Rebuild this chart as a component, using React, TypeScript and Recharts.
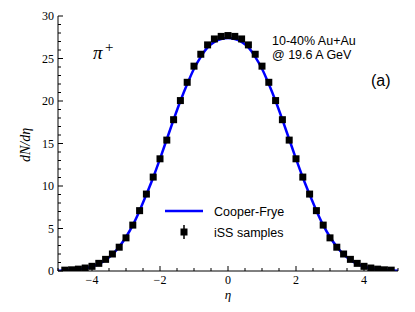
import { ComposedChart, Line, Scatter, XAxis, YAxis, Legend } from 'recharts';

// eta grid for the Cooper-Frye curve
const etaGrid = [
  -5, -4.8, -4.6, -4.4, -4.2, -4, -3.8, -3.6, -3.4, -3.2, -3, -2.8, -2.6, -2.4, -2.2, -2,
  -1.8, -1.6, -1.4, -1.2, -1, -0.8, -0.6, -0.4, -0.2, 0, 0.2, 0.4, 0.6, 0.8, 1, 1.2, 1.4,
  1.6, 1.8, 2, 2.2, 2.4, 2.6, 2.8, 3, 3.2, 3.4, 3.6, 3.8, 4, 4.2, 4.4, 4.6, 4.8, 5,
];
const cooperFrye = [
  0.04, 0.07, 0.12, 0.2, 0.32, 0.52, 0.85, 1.3, 1.95, 2.85, 4.0, 5.4, 7.1, 9.0, 11.0, 13.2,
  15.5, 17.8, 20.0, 22.0, 23.8, 25.2, 26.3, 26.95, 27.3, 27.4, 27.3, 26.95, 26.3, 25.2, 23.8,
  22.0, 20.0, 17.8, 15.5, 13.2, 11.0, 9.0, 7.1, 5.4, 4.0, 2.85, 1.95, 1.3, 0.85, 0.52, 0.32,
  0.2, 0.12, 0.07, 0.04,
];

// iSS sampled bins
const etaBins = [
  -4.8, -4.6, -4.4, -4.2, -4, -3.8, -3.6, -3.4, -3.2, -3, -2.8, -2.6, -2.4, -2.2, -2, -1.8,
  -1.6, -1.4, -1.2, -1, -0.8, -0.6, -0.4, -0.2, 0, 0.2, 0.4, 0.6, 0.8, 1, 1.2, 1.4, 1.6, 1.8,
  2, 2.2, 2.4, 2.6, 2.8, 3, 3.2, 3.4, 3.6, 3.8, 4, 4.2, 4.4, 4.6, 4.8,
];
const issSamples = [
  0.1, 0.14, 0.22, 0.35, 0.55, 0.9, 1.37, 2.0, 2.8, 3.9, 5.4, 7.1, 9.05, 11.05, 13.2, 15.4,
  17.8, 20.05, 22.2, 24.1, 25.5, 26.6, 27.3, 27.6, 27.7, 27.6, 27.3, 26.6, 25.5, 24.1, 22.2,
  20.05, 17.8, 15.4, 13.2, 11.05, 9.05, 7.1, 5.4, 3.9, 2.8, 2.0, 1.37, 0.9, 0.55, 0.35, 0.22,
  0.14, 0.1,
];

const xTicks = [-5, -4.5, -4, -3.5, -3, -2.5, -2, -1.5, -1, -0.5, 0, 0.5, 1, 1.5, 2, 2.5, 3, 3.5, 4, 4.5, 5];
const xMajor = [-4, -2, 0, 2, 4];
const yTicks = Array.from({ length: 31 }, (_, i) => i);
const yMajor = [0, 5, 10, 15, 20, 25, 30];

const lineData = etaGrid.map((eta, i) => ({ eta, cf: cooperFrye[i] }));
const issData = etaBins.map((eta, i) => ({ eta, iss: issSamples[i] }));

const serif = "'Liberation Serif', 'DejaVu Serif', serif";
const sans = "'Liberation Sans', Arial, sans-serif";

const fmt = (v: number) => (v < 0 ? `\u2212${Math.abs(v)}` : `${v}`);

function BottomTick({ x, y, payload }: any) {
  const major = xMajor.includes(payload.value);
  return (
    <g>
      <line x1={x} x2={x} y1={y} y2={y - (major ? 5 : 3)} stroke="#000" strokeWidth={1} />
      {major && (
        <text x={x} y={y + 13} textAnchor="middle" fontFamily={serif} fontSize={12} fill="#000">
          {fmt(payload.value)}
        </text>
      )}
    </g>
  );
}

function TopTick({ x, y, payload }: any) {
  const major = xMajor.includes(payload.value);
  return <line x1={x} x2={x} y1={y} y2={y + (major ? 5 : 3)} stroke="#000" strokeWidth={1} />;
}

function LeftTick({ x, y, payload }: any) {
  const major = yMajor.includes(payload.value);
  return (
    <g>
      <line x1={x} x2={x + (major ? 5 : 3)} y1={y} y2={y} stroke="#000" strokeWidth={1} />
      {major && (
        <text x={x - 4} y={y + 4} textAnchor="end" fontFamily={serif} fontSize={12} fill="#000">
          {payload.value}
        </text>
      )}
    </g>
  );
}

function RightTick({ x, y, payload }: any) {
  const major = yMajor.includes(payload.value);
  return <line x1={x} x2={x - (major ? 5 : 3)} y1={y} y2={y} stroke="#000" strokeWidth={1} />;
}

function SquareDot({ cx, cy }: any) {
  if (cx == null || cy == null) return null;
  return <rect x={cx - 3.5} y={cy - 3.5} width={7} height={7} fill="#000" />;
}

function LegendBox() {
  return (
    <svg width={140} height={46} style={{ display: 'block' }}>
      <line x1={5} x2={43} y1={12} y2={12} stroke="#0000ff" strokeWidth={2.5} />
      <text x={54} y={17} fontFamily={sans} fontSize={12.5} fill="#000">Cooper-Frye</text>
      <line x1={24} x2={24} y1={26} y2={40} stroke="#000" strokeWidth={1.5} />
      <rect x={20.5} y={29.5} width={7} height={7} fill="#000" />
      <text x={54} y={38} fontFamily={sans} fontSize={12.5} fill="#000">iSS samples</text>
    </svg>
  );
}

export default function App() {
  return (
    <div style={{ position: 'absolute', left: 0, top: 0, width: 415, height: 312, background: '#fff' }}>
      <ComposedChart
        width={415}
        height={312}
        data={lineData}
        margin={{ top: 16, right: 17, bottom: 0, left: 0 }}
      >
        <XAxis
          dataKey="eta"
          type="number"
          domain={[-5, 5]}
          allowDataOverflow
          ticks={xTicks}
          interval={0}
          height={41}
          tickSize={0}
          tickMargin={0}
          tick={<BottomTick />}
          axisLine={{ stroke: '#000' }}
          tickLine={false}
        />
        <XAxis
          xAxisId="top"
          orientation="top"
          dataKey="eta"
          type="number"
          domain={[-5, 5]}
          allowDataOverflow
          ticks={xTicks}
          interval={0}
          height={0}
          tickSize={0}
          tickMargin={0}
          tick={<TopTick />}
          axisLine={{ stroke: '#000' }}
          tickLine={false}
        />
        <YAxis
          type="number"
          domain={[0, 30]}
          allowDataOverflow
          ticks={yTicks}
          interval={0}
          width={58}
          tickSize={0}
          tickMargin={0}
          tick={<LeftTick />}
          axisLine={{ stroke: '#000' }}
          tickLine={false}
        />
        <YAxis
          yAxisId="right"
          orientation="right"
          type="number"
          domain={[0, 30]}
          allowDataOverflow
          ticks={yTicks}
          interval={0}
          width={0}
          tickSize={0}
          tickMargin={0}
          tick={<RightTick />}
          axisLine={{ stroke: '#000' }}
          tickLine={false}
        />
        <Line
          type="monotone"
          dataKey="cf"
          stroke="#0000ff"
          strokeWidth={2.5}
          dot={false}
          isAnimationActive={false}
        />
        <Scatter data={issData} dataKey="iss" shape={<SquareDot />} isAnimationActive={false} />
        <Legend
          layout="horizontal"
          verticalAlign="middle"
          align="center"
          wrapperStyle={{ left: 160, top: 199, width: 140 }}
          content={() => <LegendBox />}
        />
        <text x={30} y={145} transform="rotate(-90 30 145)" textAnchor="middle" fontFamily={serif} fontStyle="italic" fontSize={14} fill="#000">
          dN/dη
        </text>
        <text x={228} y={299} textAnchor="middle" fontFamily={serif} fontStyle="italic" fontSize={13} fill="#000">
          η
        </text>
        <text x={93} y={59} fontFamily={serif} fontStyle="italic" fontSize={19} fill="#000">
          π
        </text>
        <text x={105} y={52} fontFamily={serif} fontSize={15} fill="#000">
          +
        </text>
        <text x={272} y={45} fontFamily={sans} fontSize={12.5} fill="#000">
          10-40% Au+Au
        </text>
        <text x={272} y={59} fontFamily={sans} fontSize={12.5} fill="#000">
          @ 19.6 A GeV
        </text>
        <text x={371} y={86} fontFamily={sans} fontSize={16} fill="#000">
          (a)
        </text>
      </ComposedChart>
    </div>
  );
}
